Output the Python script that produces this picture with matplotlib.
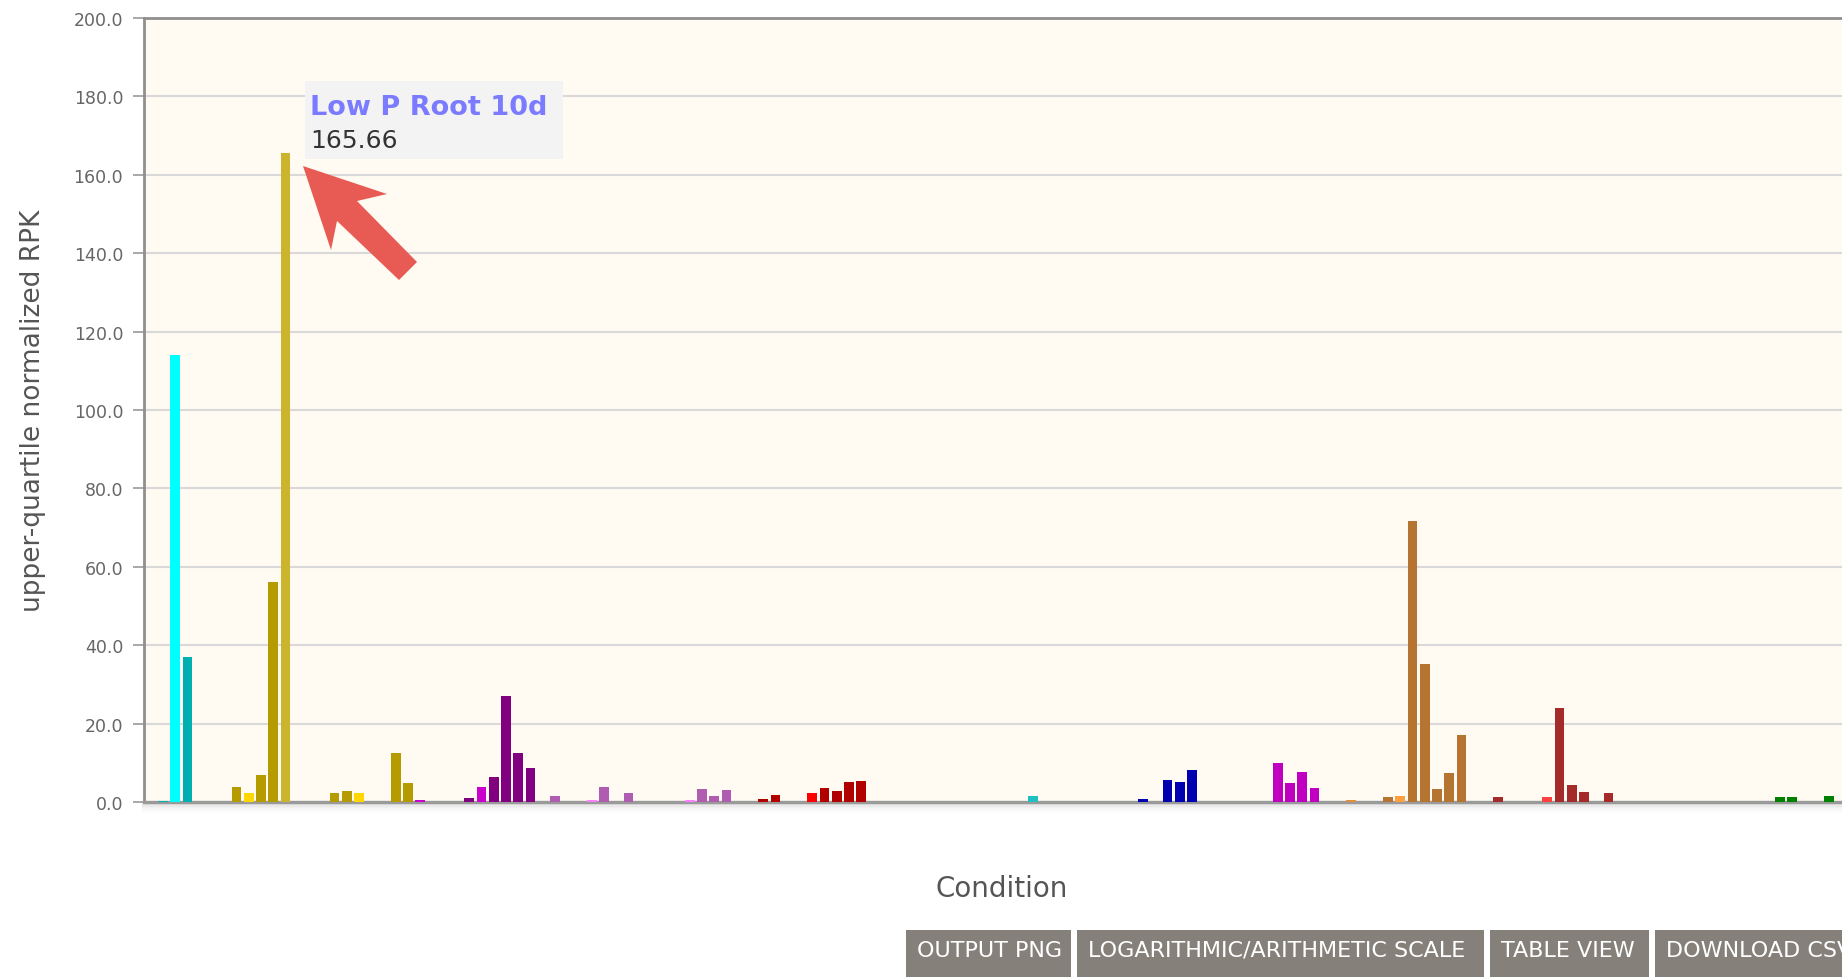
import matplotlib
matplotlib.use("Agg")
import matplotlib.pyplot as plt
from matplotlib.patches import Rectangle, Polygon

# ---------------- data ----------------
TEAL = "#00b0b0"; CYAN = "#00ffff"; GOLD = "#b59a00"; YEL = "#ffd700"; LGOLD = "#ccb52c"
MAG = "#cc00cc"; PUR = "#800080"; ORC = "#b05cb0"; PINK = "#ff80ff"; DRED = "#b00000"
RED = "#ff0000"; LTEAL = "#20c0c0"; BLUE = "#0000b0"; MAG2 = "#c000c0"; ORA = "#ffa040"
PERU = "#b5742f"; BRN = "#a52a2a"; LRED = "#ff4040"; GRN = "#008000"; NONE = "#ffffff"

values = [0.3, 114.0, 37.0, 0, 0, 0, 3.9, 2.2, 7.0, 56.2,
          165.66, 0, 0, 0, 2.3, 2.8, 2.2, 0, 0, 12.4,
          4.8, 0.4, 0, 0, 0, 1.1, 3.9, 6.5, 27.1, 12.4,
          8.8, 0, 1.5, 0, 0, 0.6, 3.7, 0, 2.2, 0,
          0, 0, 0, 0.6, 3.2, 1.5, 3.0, 0, 0, 0.8,
          1.8, 0, 0, 2.3, 3.5, 2.7, 5.2, 5.4, 0, 0,
          0, 0, 0, 0, 0, 0, 0, 0, 0, 0,
          0, 1.5, 0, 0, 0, 0, 0, 0, 0, 0,
          0.7, 0, 5.5, 5.0, 8.1, 0, 0, 0, 0, 0,
          0, 10.0, 4.8, 7.6, 3.5, 0, 0, 0.6, 0, 0,
          1.4, 1.5, 71.6, 35.2, 3.3, 7.5, 17.0, 0, 0, 1.2,
          0, 0, 0, 1.4, 24.1, 4.3, 2.5, 0, 2.3, 0,
          0, 0, 0, 0, 0, 0, 0, 0, 0, 0,
          0, 0, 1.4, 1.4, 0, 0, 1.6]

colors = [TEAL, CYAN, TEAL, NONE, NONE, NONE, GOLD, YEL, GOLD, GOLD,
          LGOLD, NONE, NONE, NONE, GOLD, GOLD, YEL, NONE, NONE, GOLD,
          GOLD, MAG, NONE, NONE, NONE, PUR, MAG, PUR, PUR, PUR,
          PUR, NONE, ORC, NONE, NONE, PINK, ORC, NONE, ORC, NONE,
          NONE, NONE, NONE, PINK, ORC, ORC, ORC, NONE, NONE, DRED,
          DRED, NONE, NONE, RED, DRED, DRED, DRED, DRED, NONE, NONE,
          NONE, NONE, NONE, NONE, NONE, NONE, NONE, NONE, NONE, NONE,
          NONE, LTEAL, NONE, NONE, NONE, NONE, NONE, NONE, NONE, NONE,
          BLUE, NONE, BLUE, BLUE, BLUE, NONE, NONE, NONE, NONE, NONE,
          NONE, MAG2, MAG2, MAG2, MAG2, NONE, NONE, "#e0903a", NONE, NONE,
          PERU, ORA, PERU, PERU, PERU, PERU, PERU, NONE, NONE, BRN,
          NONE, NONE, NONE, LRED, BRN, BRN, BRN, NONE, BRN, NONE,
          NONE, NONE, NONE, NONE, NONE, NONE, NONE, NONE, NONE, NONE,
          NONE, NONE, GRN, GRN, NONE, NONE, GRN]

y_ticks = [0, 20, 40, 60, 80, 100, 120, 140, 160, 180, 200]
y_label = "upper-quartile normalized RPK"
x_label = "Condition"
tooltip_title = "Low P Root 10d"
tooltip_value = "165.66"
buttons = ["OUTPUT PNG", "LOGARITHMIC/ARITHMETIC SCALE", "TABLE VIEW", "DOWNLOAD CSV"]
button_left_px = [906, 1077, 1490, 1655]
button_right_px = [1071, 1484, 1649, 1900]

# ---------------- figure ----------------
W, H = 1842, 978
fig = plt.figure(figsize=(W / 100, H / 100), dpi=100)
fig.patch.set_facecolor("white")

def fx(px):
    return px / W

def fy(py):
    return 1 - py / H

left_px, top_px, bottom_px = 144, 19, 803
ax = fig.add_axes([fx(left_px), fy(bottom_px), 1 - fx(left_px), (bottom_px - top_px) / H])
ax.set_facecolor("#fffbf3")

slot_px = 12.25
first_center_px = 163
x = list(range(len(values)))
ax.bar(x, values, width=0.8, color=colors, linewidth=0, zorder=3)

ax.set_xlim((left_px - first_center_px) / slot_px, (W - first_center_px) / slot_px)
ax.set_ylim(0, 200)
ax.set_yticks(y_ticks)
ax.set_yticklabels([f"{v:.1f}" for v in y_ticks], fontsize=12.5, color="#666666")
ax.set_xticks([])
ax.tick_params(axis="y", direction="out", length=8, width=1.2, color="#999999", pad=7)
ax.grid(axis="y", color="#d9d9d9", linewidth=1.5, zorder=0)
ax.set_axisbelow(True)

for side in ("left", "top"):
    ax.spines[side].set_color("#8f8f8f")
    ax.spines[side].set_linewidth(2.0)
ax.spines["bottom"].set_color("#9a9a9a")
ax.spines["bottom"].set_linewidth(2.4)
ax.spines["right"].set_visible(False)

# shadow under bottom axis
for k, a in enumerate([0.22, 0.16, 0.11, 0.07, 0.04, 0.02]):
    fig.add_artist(Rectangle((fx(left_px - 2), fy(bottom_px + 3 + k * 1.5)), 1, 1.5 / H,
                             transform=fig.transFigure, color="#808080", alpha=a, lw=0))

# axis labels
fig.text(fx(33), fy(411), y_label, rotation=90, ha="center", va="center",
         fontsize=19, color="#555555")
fig.text(fx(1002), fy(889), x_label, ha="center", va="center", fontsize=20, color="#555555")

# tooltip
fig.add_artist(Rectangle((fx(305), fy(160)), (563 - 305) / W, (160 - 82) / H,
                         transform=fig.transFigure, color="#f3f3f3", lw=0, zorder=5))
fig.text(fx(310), fy(115), tooltip_title, ha="left", va="baseline", fontsize=19.5,
         fontweight="bold", color="#7b7bff", zorder=6)
fig.text(fx(310), fy(148), tooltip_value, ha="left", va="baseline", fontsize=18,
         color="#333333", zorder=6)

# red arrow
arrow_px = [(303, 167), (387, 195), (357, 202), (417, 263), (399, 281), (337, 222), (331, 251)]
fig.add_artist(Polygon([(fx(a), fy(b)) for a, b in arrow_px], closed=True,
                       transform=fig.transFigure, facecolor="#e85b54", edgecolor="none", zorder=7))

# buttons
for label, l, r in zip(buttons, button_left_px, button_right_px):
    fig.add_artist(Rectangle((fx(l), 0), (r - l) / W, (H - 931) / H,
                             transform=fig.transFigure, color="#858079", lw=0))
    fig.text(fx(l + 11), fy(951), label, ha="left", va="center", fontsize=16, color="white")

fig.savefig("out.png", dpi=100, facecolor="white")
